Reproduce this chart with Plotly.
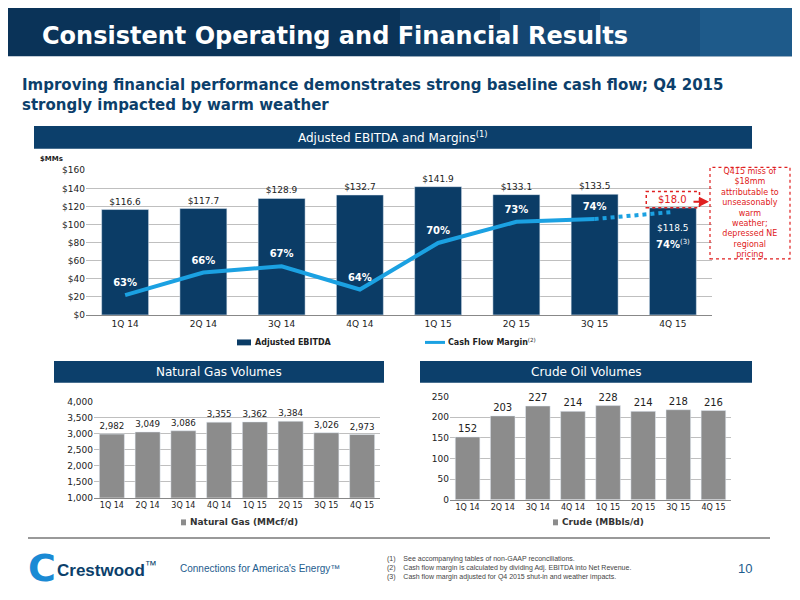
import plotly.graph_objects as go

quarters = ["1Q 14", "2Q 14", "3Q 14", "4Q 14", "1Q 15", "2Q 15", "3Q 15", "4Q 15"]
ebitda = [116.6, 117.7, 128.9, 132.7, 141.9, 133.1, 133.5, 118.5]
ebitda_miss = 18.0
margin = [63.0, 66.2, 67.1, 63.8, 70.4, 73.4, 73.8]
margin_q4 = 74.8
margin_labels = ["63%", "66%", "67%", "64%", "70%", "73%", "74%", "74%"]
gas = [2982, 3049, 3086, 3355, 3362, 3384, 3026, 2973]
crude = [152, 203, 227, 214, 228, 214, 218, 216]

NAVY = "#0c3f6b"
BAR = "#0b3c66"
LINE = "#1ba1e2"
GREY = "#8c8c8c"
FONT = "Verdana, DejaVu Sans"

# page offset of the plot div (body margin)
OFF = 8

def px(x):
    return (x - OFF) / 800

def py(y):
    return 1 - (y - OFF) / 600

fig = go.Figure()

# main EBITDA chart
fig.add_trace(go.Bar(x=quarters, y=ebitda, marker_color=BAR, width=0.6,
                     text=["$%.1f" % v for v in ebitda[:-1]] + [""],
                     textposition="outside", cliponaxis=False,
                     textfont=dict(size=9, color="#222", family=FONT),
                     xaxis="x", yaxis="y"))
fig.add_trace(go.Scatter(x=quarters[:-1], y=margin, mode="lines",
                         line=dict(color=LINE, width=4), xaxis="x", yaxis="y2"))
fig.add_trace(go.Scatter(x=quarters[-2:], y=[margin[-1], margin_q4], mode="lines",
                         line=dict(color=LINE, width=4, dash="dot"), xaxis="x", yaxis="y2"))
fig.add_trace(go.Scatter(x=quarters[:-1], y=[m + 1.6 for m in margin], mode="text",
                         text=["<b>%s</b>" % t for t in margin_labels[:-1]], textposition="middle center",
                         textfont=dict(size=10, color="white", family=FONT),
                         xaxis="x", yaxis="y2"))

# natural gas
fig.add_trace(go.Bar(x=quarters, y=gas, marker_color=GREY, width=0.7,
                     text=["{:,}".format(v) for v in gas], textposition="outside",
                     cliponaxis=False, textfont=dict(size=10, color="#222", family=FONT),
                     xaxis="x3", yaxis="y3"))
# crude
fig.add_trace(go.Bar(x=quarters, y=crude, marker_color=GREY, width=0.7,
                     text=[str(v) for v in crude], textposition="outside",
                     cliponaxis=False, textfont=dict(size=10, color="#222", family=FONT),
                     xaxis="x4", yaxis="y4"))

tick = dict(size=9, color="#222", family=FONT)
grid = "#bfbfbf"
fig.update_layout(
    width=800, height=600, margin=dict(l=0, r=0, t=0, b=0),
    paper_bgcolor="white", plot_bgcolor="white", showlegend=False,
    xaxis=dict(domain=[px(86), px(712)], anchor="y", tickfont=tick, showline=True,
               linecolor="#888", ticks=""),
    yaxis=dict(domain=[py(315), py(168)], range=[0, 160], dtick=20, tickprefix="$",
               tickfont=tick, gridcolor=grid, zeroline=False),
    yaxis2=dict(domain=[py(315), py(168)], range=[60.2, 80.7], overlaying="y",
                anchor="x", visible=False),
    xaxis3=dict(domain=[px(94), px(380)], anchor="y3", tickfont=dict(size=8, color="#222", family=FONT),
                showline=True, linecolor="#888"),
    yaxis3=dict(domain=[py(501), py(403)], range=[1000, 4000], dtick=500, anchor="x3",
                tickfont=tick, gridcolor=grid, zeroline=False, tickformat=","),
    xaxis4=dict(domain=[px(450), px(731)], anchor="y4", tickfont=dict(size=8, color="#222", family=FONT),
                showline=True, linecolor="#888"),
    yaxis4=dict(domain=[py(503), py(398)], range=[0, 250], dtick=50, anchor="x4",
                tickfont=tick, gridcolor=grid, zeroline=False),
)

shapes = []
ann = []

def note(x, y, text, size, color, family=FONT, xanchor="center", **kw):
    ann.append(dict(x=px(x), y=py(y), xref="paper", yref="paper", xanchor=xanchor,
                    yanchor="middle", showarrow=False, text=text,
                    font=dict(size=size, color=color, family=family), **kw))

# title bar
shapes.append(dict(type="rect", xref="paper", yref="paper", x0=px(0), x1=px(800), y0=py(52), y1=py(0),
                   fillcolor="#0a3358", line_width=0, layer="below"))
for i, c in enumerate(["#0f3d66", "#144672", "#19507e", "#1e5a8a"]):
    shapes.append(dict(type="rect", xref="paper", yref="paper", x0=px(400 + i * 100), x1=px(500 + i * 100),
                       y0=py(52), y1=py(0), fillcolor=c, line_width=0, layer="below"))
note(40, 31, "<b>Consistent Operating and Financial Results</b>", 24, "white", xanchor="left")
note(20, 91, "<b>Improving financial performance demonstrates strong baseline cash flow; Q4 2015<br>strongly impacted by warm weather</b>",
     15, NAVY, xanchor="left", align="left")
# section headers
for x0, x1, y0, y1, t in [(34, 752, 123, 146, "Adjusted EBITDA and Margins<sup>(1)</sup>"),
                          (54, 384, 362, 384, "Natural Gas Volumes"),
                          (420, 752, 362, 384, "Crude Oil Volumes")]:
    shapes.append(dict(type="rect", xref="paper", yref="paper", x0=px(x0), x1=px(x1),
                       y0=py(y1), y1=py(y0), fillcolor=NAVY, line_width=0, layer="below"))
    note((x0 + x1) / 2, (y0 + y1) / 2, t, 12, "white")
note(38, 156, "<b>$MMs</b>", 7, "#222", xanchor="left")

# Q4 2015 annotations
ann.append(dict(x=quarters[-1], y=margin_q4 - 4.5, xref="x", yref="y2", showarrow=False,
                text="<b>74%</b><sup>(3)</sup>", font=dict(size=10, color="white", family=FONT)))
ann.append(dict(x=quarters[-1], y=ebitda[-1] - 22, xref="x", yref="y", showarrow=False,
                text="$%.1f" % ebitda[-1], font=dict(size=9, color="white", family=FONT)))
shapes.append(dict(type="rect", xref="x", yref="y", x0=7 - 0.34, x1=7 + 0.34,
                   y0=ebitda[-1], y1=ebitda[-1] + ebitda_miss,
                   line=dict(color="#e02020", width=1.5, dash="dot")))
ann.append(dict(x=quarters[-1], y=ebitda[-1] + ebitda_miss / 2, xref="x", yref="y", showarrow=False,
                text="$%.1f" % ebitda_miss, font=dict(size=10, color="#e02020", family=FONT)))
shapes.append(dict(type="rect", xref="paper", yref="paper", x0=px(710), x1=px(790),
                   y0=py(258), y1=py(165), line=dict(color="#e02020", width=1.2, dash="dot")))
note(750, 211, "Q415 miss of<br>$18mm<br>attributable to<br>unseasonably<br>warm<br>weather;<br>depressed NE<br>regional<br>pricing",
     8, "#e02020")
ann.append(dict(x=px(709), y=py(200), ax=-17, ay=0, xref="paper", yref="paper",
                showarrow=True, arrowhead=2, arrowcolor="#e02020",
                arrowwidth=2, text=""))

# legends
shapes.append(dict(type="rect", xref="paper", yref="paper", x0=px(237), x1=px(251),
                   y0=py(346), y1=py(340), fillcolor=BAR, line_width=0))
note(253, 343, "<b>Adjusted EBITDA</b>", 8, "#222", xanchor="left")
shapes.append(dict(type="line", xref="paper", yref="paper", x0=px(425), x1=px(445),
                   y0=py(343), y1=py(343), line=dict(color=LINE, width=3)))
note(446, 343, "<b>Cash Flow Margin</b><sup>(2)</sup>", 8, "#222", xanchor="left")
for x, t in [(181, "Natural Gas (MMcf/d)"), (553, "Crude (MBbls/d)")]:
    shapes.append(dict(type="rect", xref="paper", yref="paper", x0=px(x), x1=px(x + 5),
                       y0=py(529), y1=py(523), fillcolor=GREY, line_width=0))
    note(x + 7, 526, "<b>%s</b>" % t, 9, "#333", xanchor="left")

# footer
shapes.append(dict(type="line", xref="paper", yref="paper", x0=px(28), x1=px(770),
                   y0=py(542), y1=py(542), line=dict(color="#999", width=2)))
note(26, 572, "<b>C</b>", 38, "#1a8ad4", xanchor="left")
note(55, 573, "<b>Crestwood</b><sup>™</sup>", 17, NAVY, family="Arial, Liberation Sans", xanchor="left")
note(178, 573, "Connections for America's Energy™", 10, "#1d5c8e", family="Arial, Liberation Sans", xanchor="left")
note(385, 572, "(1)    See accompanying tables of non-GAAP reconciliations.<br>(2)    Cash flow margin is calculated by dividing Adj. EBITDA into Net Revenue.<br>(3)    Cash flow margin adjusted for Q4 2015 shut-in and weather impacts.",
     7, "#444", family="Arial, Liberation Sans", xanchor="left", align="left")
note(745, 573, "10", 13, "#1d5c8e", family="Arial, Liberation Sans")

fig.update_layout(shapes=shapes, annotations=ann)
fig.write_html("out.html")
